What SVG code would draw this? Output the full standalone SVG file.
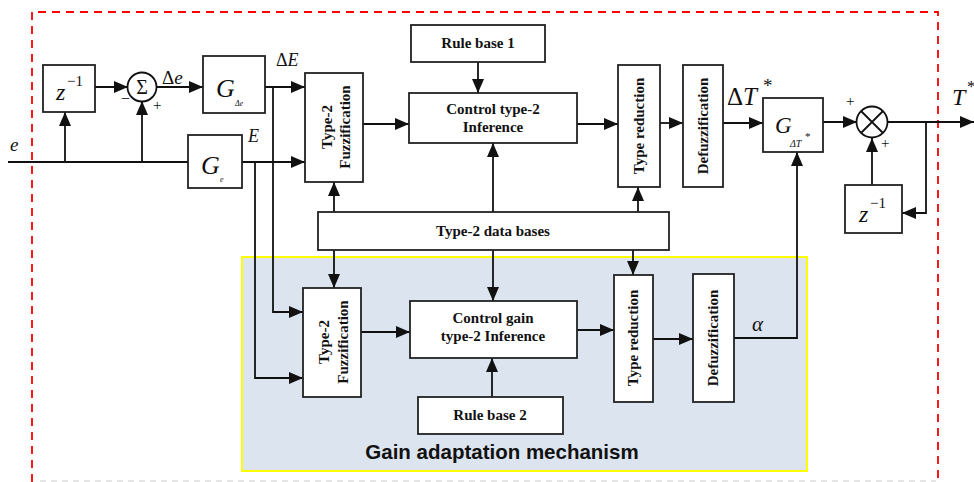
<svg xmlns="http://www.w3.org/2000/svg" width="974" height="482" viewBox="0 0 974 482">
<defs>
<marker id="ar" markerUnits="userSpaceOnUse" markerWidth="14" markerHeight="12" refX="14" refY="6" orient="auto">
<path d="M0,0 L14,6 L0,12 z" fill="#111"/>
</marker>
<style>
.b{fill:#fff;stroke:#222;stroke-width:1.8}
.c{fill:none;stroke:#111;stroke-width:1.8}
.a{fill:none;stroke:#111;stroke-width:1.8;marker-end:url(#ar)}
.t{font-family:'Liberation Serif','Times New Roman',serif;font-weight:bold;font-size:15px;fill:#111;text-anchor:middle}
.m{font-family:'Liberation Serif','Times New Roman',serif;font-style:italic;fill:#111}
.r{font-family:'Liberation Serif','Times New Roman',serif;fill:#111}
</style>
</defs>
<rect width="974" height="482" fill="#fff"/>
<path d="M32,482 V12 H938 V482" fill="none" stroke="#f00" stroke-width="1.8" stroke-dasharray="8,6"/>
<line x1="40" y1="481" x2="936" y2="481" stroke="#ddd" stroke-width="1.5" stroke-dasharray="6,5"/>
<g id="gain-adaptation">
<rect x="242" y="257" width="565" height="214" fill="#dce4ef" stroke="#ff0" stroke-width="2"/>
<text x="502" y="459" font-family="'Liberation Sans',Arial,sans-serif" font-weight="bold" font-size="20.5" text-anchor="middle" fill="#111">Gain adaptation mechanism</text>
</g>
<g id="connectors">
<path class="c" d="M8,162 H188"/>
<path class="a" d="M65,162 V112"/>
<path class="a" d="M142,162 V101"/>
<path class="a" d="M95,87 H128"/>
<path class="a" d="M157,87 H203"/>
<path class="a" d="M265,87 H305"/>
<path class="a" d="M242,162 H305"/>
<path class="a" d="M273,87 V312 H303"/>
<path class="a" d="M255,162 V378 H303"/>
<path class="a" d="M363,124 H409"/>
<path class="a" d="M478,62 V93"/>
<path class="a" d="M577,124 H618"/>
<path class="a" d="M660,123 H683"/>
<path class="a" d="M723,123 H763"/>
<path class="a" d="M823,122 H857"/>
<path class="a" d="M888,122 H974"/>
<path class="a" d="M926,122 V213 H902"/>
<path class="a" d="M872,185 V138"/>
<path class="a" d="M334,212 V182"/>
<path class="a" d="M493,212 V143"/>
<path class="a" d="M638,212 V187"/>
<path class="a" d="M334,250 V288"/>
<path class="a" d="M493,250 V301"/>
<path class="a" d="M633,250 V275"/>
<path class="a" d="M361,332 H410"/>
<path class="a" d="M492,397 V358"/>
<path class="a" d="M577,330 H614"/>
<path class="a" d="M653,339 H693"/>
<path class="a" d="M734,338 H797 V152"/>
</g>
<g id="input-e"><text class="m" x="10" y="151" font-size="19">e</text></g>
<g id="z1">
<rect class="b" x="43" y="65" width="52" height="47"/>
<text class="m" x="56" y="100" font-size="24">z</text><text class="r" x="67" y="86" font-size="15">−1</text>
</g>
<g id="sum">
<circle cx="142" cy="87" r="14.5" fill="#fff" stroke="#111" stroke-width="1.8"/>
<text class="r" x="142" y="94" font-size="20" text-anchor="middle">Σ</text>
<text class="r" x="121" y="104" font-size="16">−</text>
<text class="r" x="153" y="110" font-size="15">+</text>
<text class="r" x="162" y="84" font-size="19">Δ<tspan font-style="italic">e</tspan></text>
</g>
<g id="g-de">
<rect class="b" x="203" y="56" width="62" height="57"/>
<text class="m" x="216" y="97" font-size="26">G</text>
<text class="m" x="235" y="106" font-size="8">Δe</text>
<text class="r" x="276" y="66" font-size="18">Δ<tspan font-style="italic">E</tspan></text>
</g>
<g id="g-e">
<rect class="b" x="188" y="135" width="54" height="53"/>
<text class="m" x="201" y="174" font-size="26">G</text>
<text class="m" x="220" y="182" font-size="8">e</text>
<text class="m" x="248" y="142" font-size="18">E</text>
</g>
<g id="fuzz1">
<rect class="b" x="305" y="73" width="58" height="109"/>
<text class="t" transform="translate(332,127) rotate(-90)">Type-2</text>
<text class="t" transform="translate(350,127) rotate(-90)">Fuzzification</text>
</g>
<g id="rule1">
<rect class="b" x="411" y="25" width="134" height="37"/>
<text class="t" x="478" y="48">Rule base 1</text>
</g>
<g id="inf1">
<rect class="b" x="409" y="93" width="168" height="50"/>
<text class="t" x="493" y="114">Control type-2</text>
<text class="t" x="493" y="132">Inference</text>
</g>
<g id="tr1">
<rect class="b" x="618" y="65" width="42" height="122"/>
<text class="t" transform="translate(644,126) rotate(-90)">Type reduction</text>
</g>
<g id="defuzz1">
<rect class="b" x="683" y="65" width="40" height="122"/>
<text class="t" transform="translate(708,126) rotate(-90)">Defuzzification</text>
</g>
<g id="g-dt">
<rect class="b" x="763" y="98" width="60" height="54"/>
<text class="m" x="775" y="133" font-size="23">G</text>
<text class="m" x="790" y="147" font-size="10">ΔT</text><text class="r" x="805" y="140" font-size="11">*</text>
<text class="r" x="727" y="105" font-size="25">Δ<tspan font-style="italic">T</tspan></text><text class="r" x="763" y="92" font-size="19">*</text>
</g>
<g id="mult">
<circle cx="872" cy="122" r="15.5" fill="#fff" stroke="#111" stroke-width="1.8"/>
<path d="M861,111 L883,133 M883,111 L861,133" stroke="#111" stroke-width="1.8"/>
<text class="r" x="846" y="106" font-size="15">+</text>
<text class="r" x="881" y="148" font-size="15">+</text>
<text class="m" x="952" y="105" font-size="24">T</text><text class="r" x="967" y="92" font-size="17">*</text>
</g>
<g id="z2">
<rect class="b" x="845" y="185" width="57" height="48"/>
<text class="m" x="859" y="222" font-size="24">z</text><text class="r" x="870" y="208" font-size="15">−1</text>
</g>
<g id="databases">
<rect class="b" x="318" y="212" width="351" height="38"/>
<text class="t" x="493" y="236">Type-2 data bases</text>
</g>
<g id="fuzz2">
<rect class="b" x="303" y="288" width="58" height="109"/>
<text class="t" transform="translate(329,342) rotate(-90)">Type-2</text>
<text class="t" transform="translate(348,342) rotate(-90)">Fuzzification</text>
</g>
<g id="inf2">
<rect class="b" x="410" y="301" width="167" height="57"/>
<text class="t" x="493" y="323">Control gain</text>
<text class="t" x="493" y="341">type-2 Inference</text>
</g>
<g id="rule2">
<rect class="b" x="418" y="397" width="145" height="37"/>
<text class="t" x="490" y="420">Rule base 2</text>
</g>
<g id="tr2">
<rect class="b" x="614" y="275" width="39" height="127"/>
<text class="t" transform="translate(638,338) rotate(-90)">Type reduction</text>
</g>
<g id="defuzz2">
<rect class="b" x="693" y="274" width="41" height="128"/>
<text class="t" transform="translate(718,338) rotate(-90)">Defuzzification</text>
<text class="m" x="752" y="331" font-size="21">α</text>
</g>
</svg>
